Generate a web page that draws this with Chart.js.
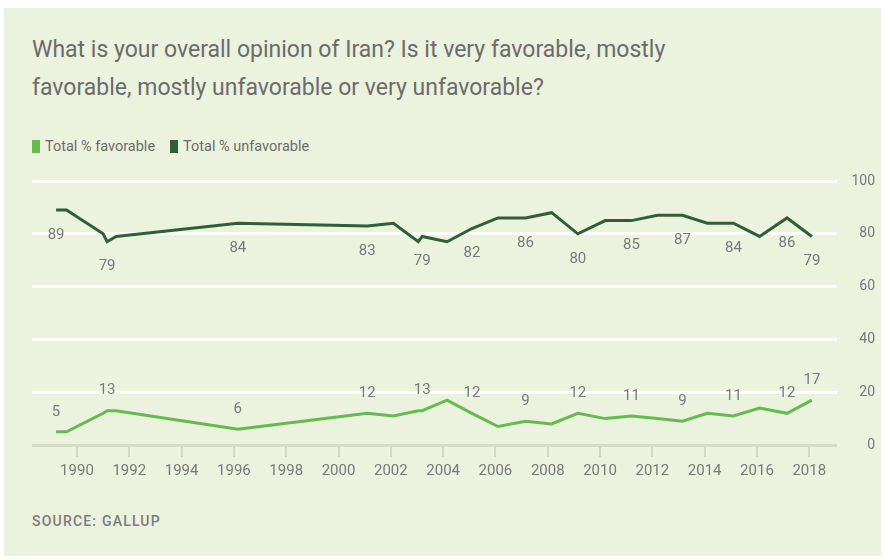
<!DOCTYPE html>
<html>
<head>
<meta charset="utf-8">
<script src="https://cdn.jsdelivr.net/npm/chart.js@4"></script>
<style>
  html, body { margin: 0; padding: 0; background: #fff; }
  #wrap { position: relative; width: 885px; height: 560px; overflow: hidden; }
  #panel { position: absolute; left: 4px; top: 8px; width: 877px; height: 548px; background: #ebf2de; }
  #title { position: absolute; left: 32px; top: 31px; font: 23px Roboto, sans-serif; line-height: 38px; color: #6c6c6c; white-space: nowrap; }
  #legend { position: absolute; left: 32px; top: 138px; font: 14.5px Roboto, sans-serif; color: #6c6c6c; display: flex; align-items: center; }
  #legend span.box { display: inline-block; width: 8px; height: 13px; margin-right: 5px; }
  #legend span.item { display: flex; align-items: center; margin-right: 15px; }
  #source { position: absolute; left: 32px; top: 513px; font: 500 14px Roboto, sans-serif; letter-spacing: 1.2px; color: #7c7c7c; }
  canvas { position: absolute; left: 0; top: 0; }
</style>
</head>
<body>
<div id="wrap">
  <div id="panel"></div>
  <div id="title">What is your overall opinion of Iran? Is it very favorable, mostly<br>favorable, mostly unfavorable or very unfavorable?</div>
  <div id="legend">
    <span class="item"><span class="box" style="background:#66bb4f"></span>Total % favorable</span>
    <span class="item"><span class="box" style="background:#2f5f38"></span>Total % unfavorable</span>
  </div>
  <div id="source">SOURCE: GALLUP</div>
  <canvas id="chart" width="885" height="560"></canvas>
</div>
<script>
// survey dates (decimal years)
const years = [1989.2, 1989.6, 1991.0, 1991.15, 1991.5, 1996.15, 2001.1, 2002.1, 2003.05, 2003.2,
  2004.15, 2005.1, 2006.1, 2007.15, 2008.15, 2009.15, 2010.2, 2011.2, 2012.2, 2013.15,
  2014.1, 2015.1, 2016.1, 2017.15, 2018.1];

const favorable = [5, 5, 12, 13, 13, 6, 12, 11, 13, 13,
  17, 12, 7, 9, 8, 12, 10, 11, 10, 9,
  12, 11, 14, 12, 17];
const unfavorable = [89, 89, 80, 77, 79, 84, 83, 84, 77, 79,
  77, 82, 86, 86, 88, 80, 85, 85, 87, 87,
  84, 84, 79, 86, 79];

// value labels printed on the chart (null = no label)
const favLabels = ['5', null, null, '13', null, '6', '12', null, null, '13',
  null, '12', null, '9', null, '12', null, '11', null, '9',
  null, '11', null, '12', '17'];
const unfavLabels = ['89', null, null, '79', null, '84', '83', null, null, '79',
  null, '82', null, '86', null, '80', null, '85', null, '87',
  null, '84', null, '86', '79'];

const xTicks = [1990, 1992, 1994, 1996, 1998, 2000, 2002, 2004, 2006, 2008, 2010, 2012, 2014, 2016, 2018];

const GRAY = '#7a7a7a';

// Draw the value labels next to the points
const valueLabels = {
  id: 'valueLabels',
  afterDatasetsDraw(chart) {
    const ctx = chart.ctx;
    ctx.save();
    ctx.font = '15px Roboto, sans-serif';
    ctx.fillStyle = GRAY;
    ctx.textAlign = 'center';
    ctx.textBaseline = 'middle';
    chart.data.datasets.forEach((ds, di) => {
      const meta = chart.getDatasetMeta(di);
      ds.valueLabels.forEach((txt, i) => {
        if (txt === null) return;
        const pt = meta.data[i];
        ctx.fillText(txt, pt.x, pt.y + ds.labelOffset);
      });
    });
    ctx.restore();
  }
};

new Chart(document.getElementById('chart').getContext('2d'), {
  type: 'line',
  data: {
    datasets: [{
      label: 'Total % favorable',
      data: years.map((x, i) => ({ x: x, y: favorable[i] })),
      borderColor: '#66bb4f',
      borderWidth: 3,
      valueLabels: favLabels,
      labelOffset: -20
    }, {
      label: 'Total % unfavorable',
      data: years.map((x, i) => ({ x: x, y: unfavorable[i] })),
      borderColor: '#2f5f38',
      borderWidth: 3,
      valueLabels: unfavLabels,
      labelOffset: 25
    }]
  },
  options: {
    responsive: false,
    animation: false,
    layout: { padding: { left: 32, top: 181, right: 10, bottom: 75 } },
    elements: { point: { radius: 0 }, line: { tension: 0 } },
    plugins: {
      legend: { display: false },
      tooltip: { enabled: false }
    },
    scales: {
      x: {
        type: 'linear',
        min: 1988.28,
        max: 2019.06,
        afterBuildTicks: (s) => { s.ticks = xTicks.map(v => ({ value: v })); },
        afterFit: (s) => { s.height = 40; },
        ticks: {
          font: { family: 'Roboto', size: 15 },
          color: GRAY,
          padding: 5,
          callback: (v) => String(v)
        },
        grid: { drawOnChartArea: false, drawTicks: true, tickLength: 12, color: '#d3d8c5', lineWidth: 2 },
        border: { display: false }
      },
      y: {
        position: 'right',
        min: 0,
        max: 100,
        afterFit: (s) => { s.width = 38; },
        ticks: {
          stepSize: 20,
          font: { family: 'Roboto', size: 14 },
          color: GRAY,
          padding: 6,
          crossAlign: 'far'
        },
        grid: {
          drawTicks: false,
          lineWidth: 3,
          color: (c) => (c.tick && c.tick.value === 0) ? '#d6dbc8' : '#ffffff'
        },
        border: { display: false }
      }
    }
  },
  plugins: [valueLabels]
});
</script>
</body>
</html>
